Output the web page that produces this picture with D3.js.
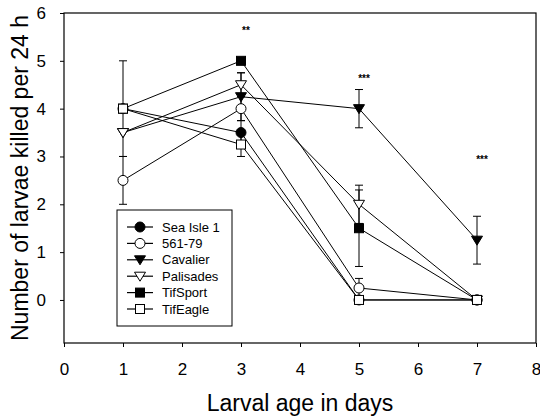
<!DOCTYPE html>
<html>
<head>
<meta charset="utf-8">
<script src="https://d3js.org/d3.v7.min.js"></script>
<style>
  body { margin: 0; background: #fff; }
  text { font-family: "Liberation Sans", Arial, sans-serif; fill: #000; }
  .tick text { font-size: 17px; }
</style>
</head>
<body>
<div id="vis"></div>
<script>
  // data
  const days = [1, 3, 5, 7]
  const names = ['Sea Isle 1', '561-79', 'Cavalier', 'Palisades', 'TifSport', 'TifEagle']
  const seaIsle = [4, 3.5, 0, 0]
  const line561 = [2.5, 4, 0.25, 0]
  const cavalier = [3.5, 4.25, 4, 1.25]
  const palisades = [3.5, 4.5, 2, 0]
  const tifSport = [4, 5, 1.5, 0]
  const tifEagle = [4, 3.25, 0, 0]
  // error bar half widths
  const seaIsleErr = [1, 0.25, 0, 0]
  const err561 = [0.5, 0.25, 0.2, 0]
  const cavalierErr = [0, 0.5, 0.4, 0.5]
  const palisadesErr = [0, 0.25, 0.4, 0]
  const tifSportErr = [0, 0, 0.8, 0]
  const tifEagleErr = [0, 0.25, 0, 0]
  const sigDays = [3, 5, 7]
  const sigLabels = ['**', '***', '***']
  const sigY = [5.65, 4.65, 2.95]
  const xTicks = [0, 1, 2, 3, 4, 5, 6, 7, 8]
  const yTicks = [0, 1, 2, 3, 4, 5, 6]

  var series = [
    {name: names[0], vals: seaIsle, err: seaIsleErr, shape: 'circle', fill: '#000'},
    {name: names[1], vals: line561, err: err561, shape: 'circle', fill: '#fff'},
    {name: names[2], vals: cavalier, err: cavalierErr, shape: 'tri', fill: '#000'},
    {name: names[3], vals: palisades, err: palisadesErr, shape: 'tri', fill: '#fff'},
    {name: names[4], vals: tifSport, err: tifSportErr, shape: 'square', fill: '#000'},
    {name: names[5], vals: tifEagle, err: tifEagleErr, shape: 'square', fill: '#fff'}
  ]

  var svg = d3.select('#vis').append('svg')
    .attr('width', 540)
    .attr('height', 419)

  var x = d3.scaleLinear().domain([0, 8]).range([64, 536])
  var y = d3.scaleLinear().domain([-0.9, 6]).range([343, 13])

  // frame
  svg.append('rect')
    .attr('x', x(0)).attr('y', y(6))
    .attr('width', x(8) - x(0)).attr('height', y(-0.9) - y(6))
    .attr('fill', 'none').attr('stroke', '#000').attr('stroke-width', 1.2)

  var xAxis = svg.append('g')
    .attr('transform', 'translate(0,' + y(-0.9) + ')')
    .call(d3.axisBottom(x).tickValues(xTicks).tickFormat(d3.format('d')).tickSize(4).tickPadding(16))
  var yAxis = svg.append('g')
    .attr('transform', 'translate(' + x(0) + ',0)')
    .call(d3.axisLeft(y).tickValues(yTicks).tickFormat(d3.format('d')).tickSize(4).tickPadding(14))
  svg.selectAll('.domain').remove()
  svg.selectAll('.tick line').attr('stroke', '#000')

  svg.append('text')
    .attr('x', 300).attr('y', 411)
    .attr('text-anchor', 'middle')
    .style('font-size', '23px')
    .text('Larval age in days')

  svg.append('text')
    .attr('transform', 'translate(28,178) rotate(-90)')
    .attr('text-anchor', 'middle')
    .style('font-size', '23px')
    .text('Number of larvae killed per 24 h')

  function drawMarker(g, shape, fill, cx, cy) {
    if (shape == 'circle') {
      g.append('circle').attr('cx', cx).attr('cy', cy).attr('r', 5)
        .attr('fill', fill).attr('stroke', '#000').attr('stroke-width', 1)
    } else if (shape == 'square') {
      g.append('rect').attr('x', cx - 4.5).attr('y', cy - 4.5).attr('width', 9).attr('height', 9)
        .attr('fill', fill).attr('stroke', '#000').attr('stroke-width', 1)
    } else {
      g.append('path')
        .attr('d', 'M' + (cx - 5.5) + ',' + (cy - 4) + 'L' + (cx + 5.5) + ',' + (cy - 4) + 'L' + cx + ',' + (cy + 5) + 'Z')
        .attr('fill', fill).attr('stroke', '#000').attr('stroke-width', 1)
    }
  }

  var line = d3.line().x(function(d, i) { return x(days[i]) }).y(function(d) { return y(d) })

  // error bars
  series.forEach(function(s) {
    s.vals.forEach(function(v, i) {
      if (s.err[i] > 0) {
        var g = svg.append('g').attr('stroke', '#000').attr('stroke-width', 1)
        var xx = x(days[i])
        g.append('line').attr('x1', xx).attr('x2', xx).attr('y1', y(v - s.err[i])).attr('y2', y(v + s.err[i]))
        g.append('line').attr('x1', xx - 4).attr('x2', xx + 4).attr('y1', y(v - s.err[i])).attr('y2', y(v - s.err[i]))
        g.append('line').attr('x1', xx - 4).attr('x2', xx + 4).attr('y1', y(v + s.err[i])).attr('y2', y(v + s.err[i]))
      }
    })
  })

  // lines
  series.forEach(function(s) {
    svg.append('path').attr('d', line(s.vals))
      .attr('fill', 'none').attr('stroke', '#000').attr('stroke-width', 1)
  })

  // markers
  series.forEach(function(s) {
    var g = svg.append('g')
    s.vals.forEach(function(v, i) { drawMarker(g, s.shape, s.fill, x(days[i]), y(v)) })
  })

  // significance stars
  sigDays.forEach(function(d, i) {
    svg.append('text')
      .attr('x', x(d) + 5).attr('y', y(sigY[i]) + 4)
      .attr('text-anchor', 'middle')
      .style('font-size', '10px').style('font-weight', 'bold').style('fill', '#000')
      .text(sigLabels[i])
  })

  // legend
  var leg = svg.append('g')
  leg.append('rect').attr('x', 117).attr('y', 210).attr('width', 115).attr('height', 116)
    .attr('fill', '#fff').attr('stroke', '#000').attr('stroke-width', 1)
  series.forEach(function(s, i) {
    var ly = 227 + i * 16.4
    leg.append('line').attr('x1', 127).attr('x2', 153).attr('y1', ly).attr('y2', ly)
      .attr('stroke', '#000').attr('stroke-width', 1.2)
    drawMarker(leg, s.shape, s.fill, 140, ly)
    leg.append('text').attr('x', 162).attr('y', ly + 4.5)
      .style('font-size', '13px')
      .text(s.name)
  })
</script>
</body>
</html>
